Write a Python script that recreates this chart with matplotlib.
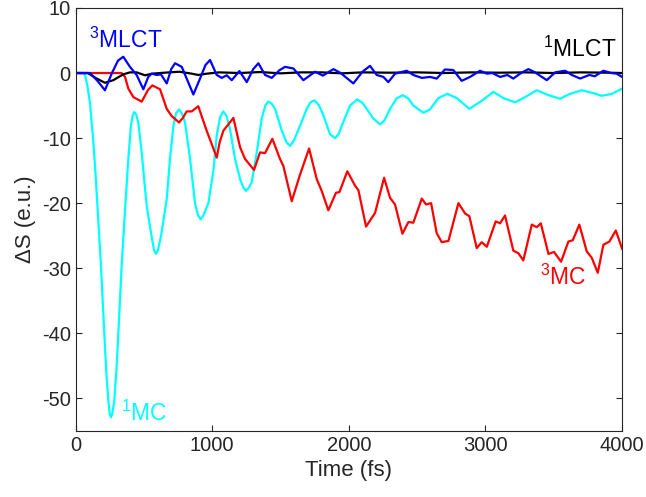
import numpy as np
import matplotlib
matplotlib.use("Agg")
import matplotlib.pyplot as plt

plt.rcParams['font.family'] = ['Liberation Sans', 'DejaVu Sans']
plt.rcParams['axes.unicode_minus'] = False
plt.rcParams['mathtext.fontset'] = 'custom'
plt.rcParams['mathtext.rm'] = 'Liberation Sans'
plt.rcParams['mathtext.it'] = 'Liberation Sans'

# values (time in fs, Delta S in e.u.)
mc1_t = [0, 55, 69, 85, 105, 130, 147, 170, 186, 210, 225, 240, 250, 259, 268, 283, 298, 313, 337,
         362, 386, 405, 418, 430, 444, 459, 484, 505, 521, 557, 575, 589, 603, 625, 667, 691, 716,
         735, 757, 778, 801, 838, 874, 895, 916, 935, 972, 1010, 1033, 1058, 1081, 1105, 1130, 1167,
         1204, 1230, 1247, 1265, 1289, 1326, 1362, 1390, 1411, 1435, 1460, 1509, 1545, 1570, 1600,
         1643, 1692, 1720, 1747, 1780, 1814, 1862, 1899, 1925, 1948, 2009, 2062, 2100, 2131, 2179,
         2228, 2260, 2302, 2350, 2394, 2435, 2472, 2545, 2594, 2655, 2721, 2790, 2882, 2960, 3058,
         3131, 3217, 3290, 3375, 3461, 3546, 3619, 3705, 3790, 3851, 3924, 4000]
mc1_v = [0, 0, -0.3, -1.8, -4.5, -10.6, -15.8, -24, -29.7, -40, -46, -50.4, -52.4, -52.9, -52.4,
         -50.4, -46, -40, -29.7, -21, -13.2, -8.1, -6.5, -6.0, -6.4, -7.6, -12.2, -17, -20.5, -25.2,
         -27.3, -27.8, -27.2, -25.1, -19.4, -13.2, -8.1, -6.2, -5.6, -6.2, -7.6, -13.2, -20, -21.8,
         -22.5, -21.9, -20, -14.8, -9.6, -6.8, -5.9, -6.6, -8.6, -13.2, -16.3, -17.7, -18.1, -17.7,
         -16.8, -12.2, -7.0, -4.9, -4.4, -4.7, -5.5, -8.85, -10.7, -11.2, -10.3, -8.1, -5.5, -4.5,
         -4.2, -4.9, -6.5, -9.4, -10.0, -9.4, -8.1, -5.0, -4.05, -4.6, -5.5, -7.0, -7.9, -7.3, -5.5,
         -3.9, -3.4, -3.9, -5.0, -6.1, -5.6, -3.85, -3.2, -3.85, -5.5, -4.45, -2.9, -3.85, -4.5,
         -3.7, -2.65, -3.4, -3.95, -3.2, -2.65, -3.1, -3.5, -3.2, -2.4]

mc3_t = [0, 337, 362, 386, 423, 484, 530, 562, 618, 667, 703, 757, 785, 813, 850, 898, 959, 996,
         1033, 1055, 1082, 1155, 1204, 1240, 1306, 1350, 1387, 1440, 1496, 1521, 1582, 1643, 1709,
         1765, 1801, 1850, 1906, 1931, 1989, 2045, 2070, 2126, 2192, 2258, 2302, 2338, 2392, 2436,
         2472, 2534, 2565, 2602, 2643, 2680, 2729, 2802, 2851, 2882, 2936, 2973, 3010, 3075, 3107,
         3143, 3204, 3241, 3277, 3339, 3375, 3405, 3461, 3502, 3553, 3607, 3639, 3687, 3741, 3778,
         3822, 3863, 3907, 3954, 4000]
mc3_v = [0, 0, -0.6, -2.4, -3.7, -4.4, -2.6, -1.9, -2.5, -5.5, -6.6, -7.6, -6.9, -5.9, -5.9, -5.1,
         -8.85, -10.9, -13.0, -10.6, -8.85, -6.9, -11.4, -13.2, -14.9, -12.2, -12.3, -10.1, -13.2,
         -14.3, -19.7, -15.6, -11.6, -16.3, -18.1, -21.1, -18.4, -18.3, -15.1, -17.3, -18.0, -23.6,
         -21.5, -16.1, -19.2, -20.2, -24.7, -22.9, -23.0, -19.3, -20.2, -20.0, -24.6, -26.0, -25.8,
         -20.0, -21.6, -22.0, -26.9, -26.0, -26.7, -22.8, -23.1, -21.9, -27.3, -27.7, -28.8, -23.3,
         -23.7, -23.1, -27.8, -27.5, -29.0, -25.9, -25.7, -23.3, -27.4, -28.4, -30.7, -26.4, -25.9,
         -24.2, -27.0]

mlct3_t = [0, 105, 160, 215, 264, 310, 349, 398, 447, 496, 532, 557, 594, 625, 667, 700, 728, 777,
           820, 862, 911, 950, 984, 1033, 1070, 1106, 1143, 1199, 1253, 1300, 1338, 1387, 1436,
           1490, 1533, 1594, 1667, 1753, 1810, 1887, 1940, 2033, 2100, 2155, 2204, 2253, 2289,
           2338, 2424, 2472, 2534, 2594, 2643, 2704, 2765, 2826, 2887, 2960, 3010, 3050, 3107,
           3160, 3204, 3260, 3314, 3363, 3449, 3510, 3583, 3632, 3693, 3760, 3800, 3863, 3920,
           3960, 4000]
mlct3_v = [0, 0, -1.2, -2.65, -0.1, 1.9, 2.5, 0.95, -0.3, -2.5, -0.6, -0.1, -0.3, -0.2, -1.6, 0.6,
           1.5, 0.95, -1.2, -3.3, -0.85, 1.2, 2.0, -0.3, -0.75, -0.35, -1.1, 0.3, -1.4, 0.6, 1.5,
           -0.3, -0.75, 0.4, 0.95, 0.7, -1.1, 0.2, -0.4, 0.6, 0.0, -1.6, 0.2, 1.1, -0.3, -0.6,
           -1.4, -0.1, 0.35, -0.3, -0.75, -0.6, -0.85, 0.55, 0.45, -1.2, -0.6, 0.35, -0.1, 0.0,
           -0.6, -0.3, -0.85, 0.0, 0.6, 0.1, -1.1, 0.1, 0.35, -0.3, -0.85, -0.3, -0.5, 0.35, 0.0,
           -0.1, -0.6]

mlct1_t = [0, 90, 150, 215, 276, 349, 398, 447, 508, 560, 650, 760, 850, 898, 960, 1050, 1200,
           1350, 1500, 1650, 1800, 1950, 2100, 2300, 2500, 2700, 2900, 3100, 3300, 3500, 3700, 3900,
           4000]
mlct1_v = [0, 0, -0.8, -1.5, -1.1, -0.2, 0.1, 0.1, -0.35, -0.1, 0.05, 0.2, -0.1, -0.3, -0.1, 0.1,
           0.0, 0.15, -0.05, 0.1, 0.1, -0.05, 0.1, 0.05, 0.1, 0.0, 0.1, 0.05, 0.1, 0.0, 0.1, 0.05,
           0.0]

fig = plt.figure(figsize=(6.46, 4.97), dpi=100)
ax = fig.add_axes([0.117, 0.133, 0.846, 0.851])

kw = dict(lw=1.6, solid_joinstyle='round')
ax.plot(mc1_t, mc1_v, color='#00FFFF', **kw)
ax.plot(mc3_t, mc3_v, color='#FF0000', **kw)
ax.plot(mlct1_t, mlct1_v, color='black', **kw)
ax.plot(mlct3_t, mlct3_v, color='#0000FF', **kw)

ax.text(100, 5.0, r'$^3$MLCT', color='#0000FF', fontsize=16.5, va='center')
ax.text(3420, 3.6, r'$^1$MLCT', color='black', fontsize=16.5, va='center')
ax.text(335, -52.3, r'$^1$MC', color='#00FFFF', fontsize=16.5, va='center')
ax.text(3400, -31.4, r'$^3$MC', color='#FF0000', fontsize=16.5, va='center')

ax.set_xlim(0, 4000)
ax.set_ylim(-55, 10)
ax.set_xticks([0, 1000, 2000, 3000, 4000])
ax.set_yticks([-50, -40, -30, -20, -10, 0, 10])
ax.set_xlabel('Time (fs)', fontsize=16, color='#262626')
ax.set_ylabel('ΔS (e.u.)', fontsize=16, color='#262626')
ax.tick_params(direction='in', top=True, right=True, labelsize=14.5, colors='#262626', length=4)
for s in ax.spines.values():
    s.set_color('#262626')
    s.set_linewidth(0.8)

fig.savefig('out.png', dpi=100)
